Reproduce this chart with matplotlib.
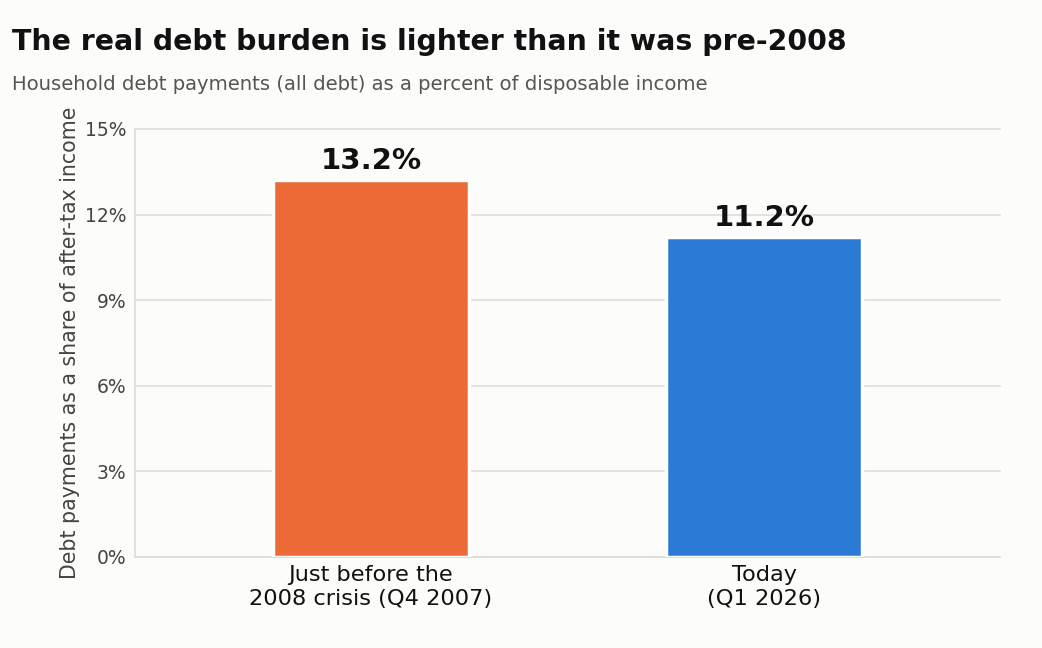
import matplotlib.pyplot as plt
from matplotlib.ticker import FuncFormatter

categories = ["Just before the\n2008 crisis (Q4 2007)", "Today\n(Q1 2026)"]
values = [13.2, 11.2]
colors = ["#EC6A36", "#2A7AD6"]
yticks = [0, 3, 6, 9, 12, 15]

bg = "#FCFCFA"
fig = plt.figure(figsize=(10.42, 6.48), dpi=100, facecolor=bg)
ax = fig.add_axes([135 / 1042, 1 - 557 / 648, 865 / 1042, 428 / 648], facecolor=bg)

x = range(len(categories))
bars = ax.bar(x, values, width=0.5, color=colors, edgecolor="white", linewidth=2.5, zorder=3)

for b, v in zip(bars, values):
    ax.text(b.get_x() + b.get_width() / 2, v + 0.2, f"{v:.1f}%", ha="center", va="bottom",
            fontsize=21, fontweight="bold", color="#111111")

ax.set_xlim(-0.6, 1.6)
ax.set_ylim(0, 15)
ax.set_yticks(yticks)
ax.yaxis.set_major_formatter(FuncFormatter(lambda v, p: f"{v:.0f}%"))
ax.set_xticks(list(x))
ax.set_xticklabels(categories, fontsize=16.2, color="#111111")
ax.tick_params(axis="y", labelsize=13.5, labelcolor="#444444", length=0, pad=6)
ax.tick_params(axis="x", length=0, pad=6)
ax.grid(axis="y", color="#DDDDDD", linewidth=1.2, zorder=0)
for gl in ax.get_ygridlines():
    gl.set_clip_on(False)

for s in ["top", "right"]:
    ax.spines[s].set_visible(False)
for s in ["left", "bottom"]:
    ax.spines[s].set_color("#DDDDDD")
    ax.spines[s].set_linewidth(1.2)

ax.set_ylabel("Debt payments as a share of after-tax income", fontsize=14.8, color="#444444", labelpad=4)

fig.text(12 / 1042, 1 - 42 / 648, "The real debt burden is lighter than it was pre-2008",
         fontsize=20.4, fontweight="bold", color="#111111", va="center")
fig.text(12 / 1042, 1 - 84 / 648, "Household debt payments (all debt) as a percent of disposable income",
         fontsize=14.1, color="#555555", va="center")

fig.savefig("out.png", dpi=100, facecolor=bg)
